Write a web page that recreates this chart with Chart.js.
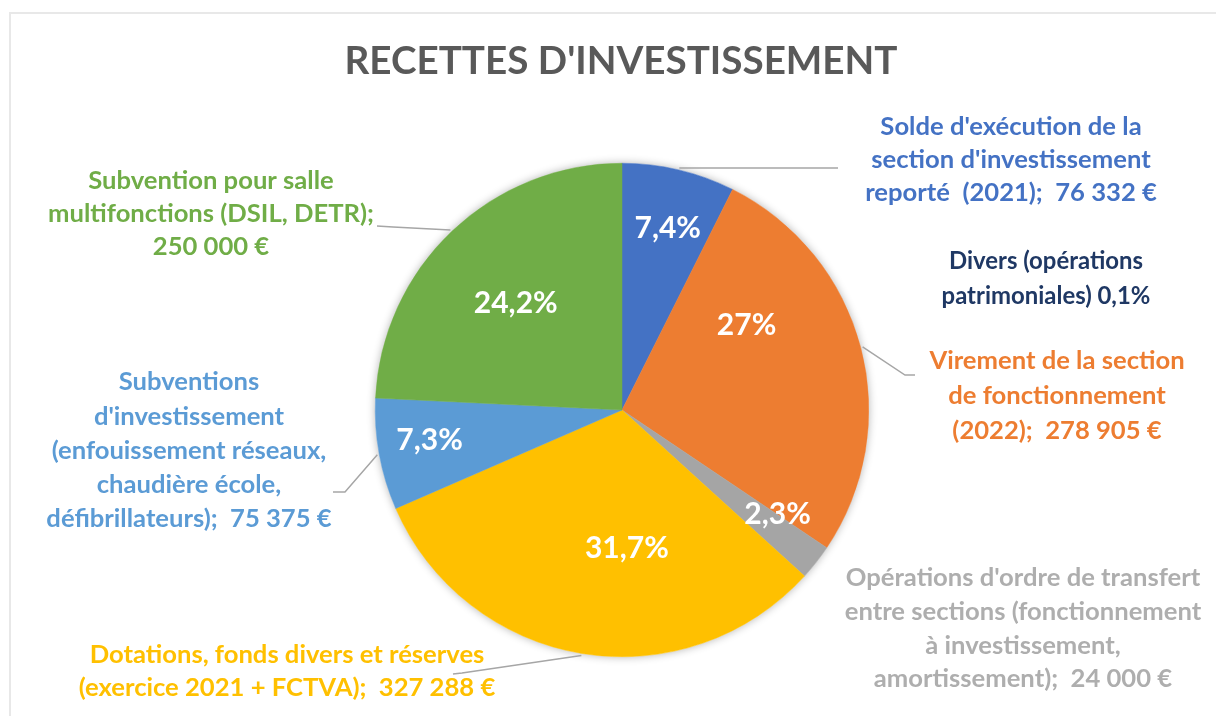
<!DOCTYPE html>
<html><head><meta charset="utf-8">
<script src="https://cdn.jsdelivr.net/npm/chart.js@4/dist/chart.umd.min.js"></script>
<style>
html,body{margin:0;padding:0;background:#fff;overflow:hidden;}
#wrap{position:absolute;left:0;top:0;width:1216px;height:716px;}
#frame{position:absolute;left:9px;top:12px;width:1300px;height:800px;border-left:2px solid #E8E8E8;border-top:2px solid #E8E8E8;}
canvas{position:absolute;left:0;top:0;}
</style></head><body>
<div id="wrap"><div id="frame"></div><canvas id="c" width="1216" height="716"></canvas></div>
<script>
// ---- data ----
const chartTitle = "RECETTES D'INVESTISSEMENT";
const categories = [
  "Solde d'exécution de la section d'investissement reporté (2021)",
  "Virement de la section de fonctionnement (2022)",
  "Opérations d'ordre de transfert entre sections (fonctionnement à investissement, amortissement)",
  "Dotations, fonds divers et réserves (exercice 2021 + FCTVA)",
  "Subventions d'investissement (enfouissement réseaux, chaudière école, défibrillateurs)",
  "Subvention pour salle multifonctions (DSIL, DETR)"
];
const amounts = [76332, 278905, 24000, 327288, 75375, 250000];
const percentLabels = ["7,4%", "27%", "2,3%", "31,7%", "7,3%", "24,2%"];
// separate note (not drawn as a slice in the original)
const diversNote = ["Divers (opérations", "patrimoniales) 0,1%"];
const calloutTexts = [
  ["Solde d'exécution de la", "section d'investissement", "reporté  (2021);  76 332 €"],
  diversNote,
  ["Virement de la section", "de fonctionnement", "(2022);  278 905 €"],
  ["Opérations d'ordre de transfert", "entre sections (fonctionnement", "à investissement,", "amortissement);  24 000 €"],
  ["Dotations, fonds divers et réserves", "(exercice 2021 + FCTVA);  327 288 €"],
  ["Subventions", "d'investissement", "(enfouissement réseaux,", "chaudière école,", "défibrillateurs);  75 375 €"],
  ["Subvention pour salle", "multifonctions (DSIL, DETR);", "250 000 €"]
];

// ---- styles / layout ----
const sliceColors = ["#4472C4", "#ED7D31", "#A5A5A5", "#FFC000", "#5B9BD5", "#70AD47"];
const calloutColors = ["#4472C4", "#1F3864", "#ED7D31", "#AEAEAE", "#FFC000", "#5B9BD5", "#70AD47"];
const calloutLayout = [
  {cx: 1011, y: 127, lh: 33},
  {cx: 1046, y: 261, lh: 35},
  {cx: 1057, y: 361, lh: 35},
  {cx: 1023, y: 578, lh: 33.7},
  {cx: 287,  y: 655, lh: 33},
  {cx: 189,  y: 382, lh: 34.3},
  {cx: 211,  y: 181, lh: 33}
];
// leader lines: slice index -> extra points (elbow, end)
const leaderLayout = {
  0: [[838, 168]],
  1: [[905, 375], [915, 375]],
  3: [[462, 673], [453, 674]],
  4: [[345, 492], [333, 492]],
  5: [[393, 227], [377, 226]]
};
// percent label placement inside slices: fraction along slice, fraction of radius
const pctLayout = [[0.53, 0.76], [0.30, 0.61], [0.0, 0.76], [0.40, 0.56], [0.55, 0.79], [0.485, 0.61]];

const FAMILY = "Lato, 'Open Sans', sans-serif";
function fitSize(ctx, text, width, weight) {
  ctx.font = weight + " 100px " + FAMILY;
  return 100 * width / ctx.measureText(text).width;
}

const overlay = {
  id: 'overlay',
  beforeDatasetsDraw(chart) {
    const ctx = chart.ctx;
    const a = chart.getDatasetMeta(0).data[0];
    ctx.save();
    ctx.beginPath();
    ctx.arc(a.x, a.y, a.outerRadius, 0, Math.PI * 2);
    ctx.shadowColor = 'rgba(0,0,0,0.30)';
    ctx.shadowBlur = 8;
    ctx.fillStyle = '#ffffff';
    ctx.fill();
    ctx.restore();
  },
  afterDatasetsDraw(chart) {
    const ctx = chart.ctx;
    const arcs = chart.getDatasetMeta(0).data;
    ctx.save();
    // title
    const ts = fitSize(ctx, chartTitle, 553, 'bold');
    ctx.font = 'bold ' + ts + 'px ' + FAMILY;
    ctx.fillStyle = '#595959';
    ctx.textAlign = 'center';
    ctx.textBaseline = 'middle';
    ctx.fillText(chartTitle, 621, 62);

    // leader lines
    ctx.strokeStyle = '#A6A6A6';
    ctx.lineWidth = 1.5;
    Object.keys(leaderLayout).forEach(k => {
      const a = arcs[+k];
      const mid = (a.startAngle + a.endAngle) / 2;
      const r = a.outerRadius + 2;
      ctx.beginPath();
      ctx.moveTo(a.x + r * Math.cos(mid), a.y + r * Math.sin(mid));
      leaderLayout[k].forEach(p => ctx.lineTo(p[0], p[1]));
      ctx.stroke();
    });

    // percent labels
    const ps = fitSize(ctx, "31,7%", 84, 'bold');
    ctx.font = 'bold ' + ps + 'px ' + FAMILY;
    ctx.fillStyle = '#ffffff';
    arcs.forEach((a, i) => {
      const L = pctLayout[i];
      if (!L || !percentLabels[i]) return;
      const ang = a.startAngle + (a.endAngle - a.startAngle) * L[0];
      const r = a.outerRadius * L[1];
      ctx.fillText(percentLabels[i], a.x + r * Math.cos(ang), a.y + r * Math.sin(ang));
    });

    // callouts
    const cs = fitSize(ctx, "multifonctions (DSIL, DETR);", 326, 'bold');
    calloutTexts.forEach((lines, j) => {
      const lay = calloutLayout[j];
      const size = j === 1 ? fitSize(ctx, "patrimoniales) 0,1%", 209, 'bold') : cs;
      ctx.font = 'bold ' + size + 'px ' + FAMILY;
      ctx.fillStyle = calloutColors[j];
      lines.forEach((t, n) => ctx.fillText(t, lay.cx, lay.y + n * lay.lh));
    });
    ctx.restore();
  }
};

new Chart(document.getElementById('c'), {
  type: 'pie',
  data: {
    labels: categories,
    datasets: [{
      data: amounts,
      backgroundColor: sliceColors,
      borderColor: sliceColors,
      borderWidth: 0.5
    }]
  },
  options: {
    responsive: false,
    animation: false,
    layout: {padding: {top: 163, bottom: 59, left: 375, right: 347}},
    plugins: {legend: {display: false}, tooltip: {enabled: false}, title: {display: false}}
  },
  plugins: [overlay]
});
</script>
</body></html>
